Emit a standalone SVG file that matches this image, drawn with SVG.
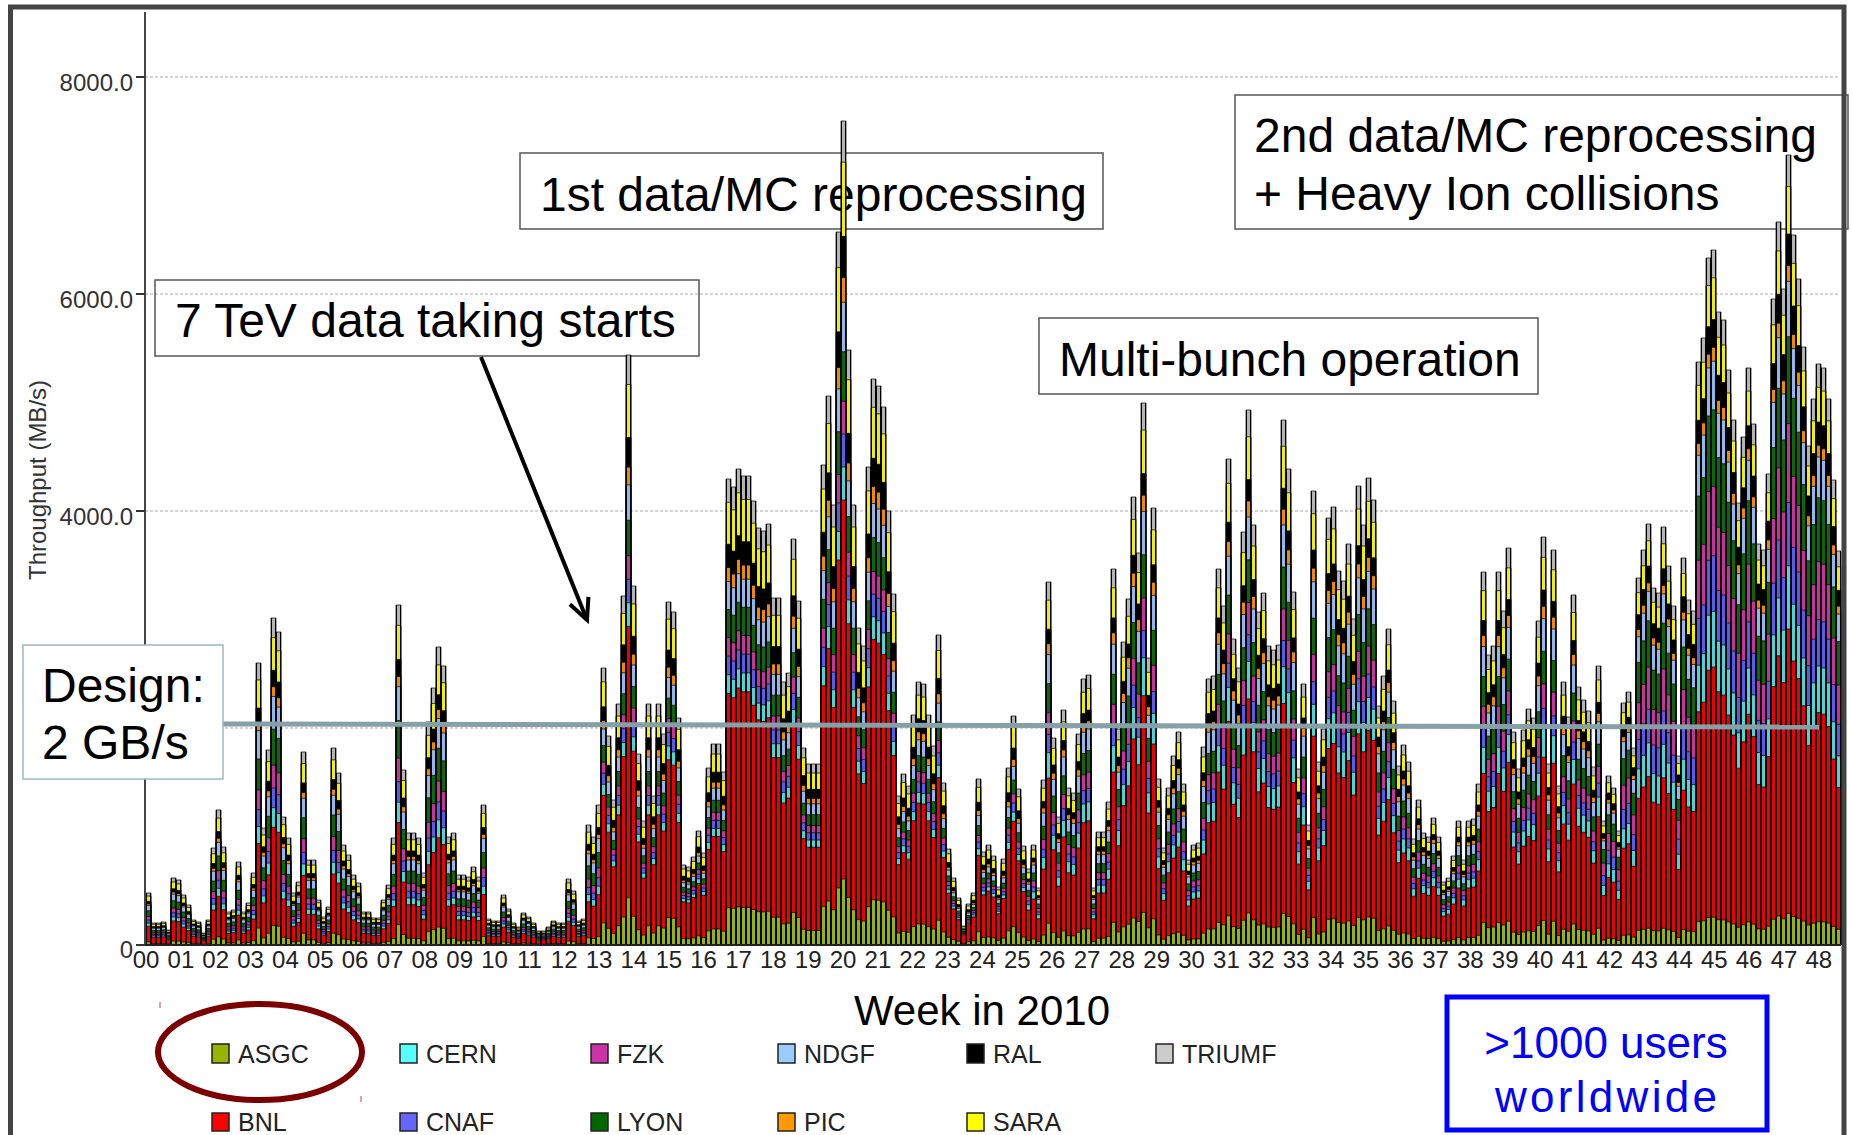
<svg xmlns="http://www.w3.org/2000/svg" xmlns:xlink="http://www.w3.org/1999/xlink" width="1852" height="1135" viewBox="0 0 1852 1135">
<style>
text{font-family:"Liberation Sans",Arial,sans-serif}
.tk{font-size:24px;fill:#333}
.wk{font-size:24px;fill:#222;text-anchor:middle}
.ann{font-size:48px;fill:#000}
.box{fill:none;stroke:#555;stroke-width:1.5}
.lg{font-size:25px;fill:#222}
.sw{stroke:#222;stroke-width:1.5}
.grid{stroke:#aaa;stroke-width:1;stroke-dasharray:3 2}
.bars use{stroke:#000;stroke-width:.7}
.tr{fill:url(#pTR)}.sa{fill:url(#pSA)}.ra{fill:#000}.pi{fill:url(#pPI)}.nd{fill:url(#pND)}.ly{fill:url(#pLY)}.fz{fill:url(#pFZ)}.cn{fill:url(#pCN)}.ce{fill:url(#pCE)}.bn{fill:url(#pBN)}.as{fill:url(#pAS)}
.usr{font-size:44px;fill:#0000ff;text-anchor:middle}
</style>
<defs>
<pattern id="pTR" patternUnits="userSpaceOnUse" x="146" width="5" height="8"><rect width="5" height="8"/><rect x="1" width="3" height="8" fill="#b4b4b4"/></pattern>
<pattern id="pSA" patternUnits="userSpaceOnUse" x="146" width="5" height="8"><rect width="5" height="8"/><rect x="1" width="3" height="8" fill="#f0f000"/></pattern>
<pattern id="pPI" patternUnits="userSpaceOnUse" x="146" width="5" height="8"><rect width="5" height="8"/><rect x="1" width="3" height="8" fill="#f08800"/></pattern>
<pattern id="pND" patternUnits="userSpaceOnUse" x="146" width="5" height="8"><rect width="5" height="8"/><rect x="1" width="3" height="8" fill="#8fb8ec"/></pattern>
<pattern id="pLY" patternUnits="userSpaceOnUse" x="146" width="5" height="8"><rect width="5" height="8"/><rect x="1" width="3" height="8" fill="#0a6a0a"/></pattern>
<pattern id="pFZ" patternUnits="userSpaceOnUse" x="146" width="5" height="8"><rect width="5" height="8"/><rect x="1" width="3" height="8" fill="#c8329f"/></pattern>
<pattern id="pCN" patternUnits="userSpaceOnUse" x="146" width="5" height="8"><rect width="5" height="8"/><rect x="1" width="3" height="8" fill="#5a5aec"/></pattern>
<pattern id="pCE" patternUnits="userSpaceOnUse" x="146" width="5" height="8"><rect width="5" height="8"/><rect x="1" width="3" height="8" fill="#4ad6d6"/></pattern>
<pattern id="pBN" patternUnits="userSpaceOnUse" x="146" width="5" height="8"><rect width="5" height="8"/><rect x="1" width="3" height="8" fill="#ee0000"/></pattern>
<pattern id="pAS" patternUnits="userSpaceOnUse" x="146" width="5" height="8"><rect width="5" height="8"/><rect x="1" width="3" height="8" fill="#96b400"/></pattern>
<marker id="openArrow" markerUnits="userSpaceOnUse" orient="auto" overflow="visible" refX="0" refY="0" markerWidth="30" markerHeight="30"><path d="M-21,-10L0,0L-21,10" fill="none" stroke="#000" stroke-width="4"/></marker>
<path id="e1" vector-effect="non-scaling-stroke" d="M146,945V893h5V923h5V923h5V922h5V930h5V878h5V880h5V895h5V905h5V920h5V922h5V933h5V920h5V848h5V810h5V847h5V912h5V910h5V862h5V912h5V903h5V873h5V663h5V828h5V750h5V618h5V632h5V817h5V838h5V893h5V882h5V752h5V860h5V860h5V900h5V917h5V907h5V748h5V773h5V845h5V855h5V875h5V883h5V912h5V912h5V918h5V918h5V900h5V885h5V838h5V605h5V770h5V833h5V833h5V838h5V873h5V722h5V688h5V647h5V666h5V837h5V833h5V875h5V875h5V877h5V867h5V877h5V805h5V919h5V921h5V921h5V895h5V909h5V923h5V927h5V913h5V917h5V923h5V931h5V931h5V927h5V921h5V923h5V923h5V879h5V891h5V921h5V919h5V825h5V837h5V805h5V945Z"/>
<path id="e2" vector-effect="non-scaling-stroke" d="M601,945V668h5V736h5V800h5V704h5V596h5V355h5V586h5V754h5V821h5V704h5V796h5V704h5V734h5V602h5V612h5V718h5V865h5V867h5V857h5V831h5V853h5V768h5V744h5V744h5V772h5V479h5V487h5V469h5V476h5V476h5V501h5V528h5V531h5V524h5V598h5V598h5V682h5V673h5V539h5V601h5V748h5V764h5V764h5V764h5V465h5V396h5V505h5V232h5V121h5V350h5V505h5V628h5V646h5V467h5V379h5V386h5V407h5V511h5V594h5V796h5V774h5V786h5V715h5V682h5V684h5V715h5V746h5V635h5V783h5V849h5V878h5V898h5V926h5V904h5V893h5V779h5V852h5V845h5V856h5V887h5V859h5V768h5V716h5V789h5V846h5V945Z"/>
<path id="e3" vector-effect="non-scaling-stroke" d="M1026,945V869h5V845h5V888h5V780h5V582h5V738h5V817h5V710h5V788h5V793h5V734h5V679h5V675h5V888h5V832h5V832h5V802h5V569h5V729h5V642h5V599h5V497h5V553h5V403h5V658h5V508h5V779h5V848h5V788h5V756h5V732h5V784h5V860h5V845h5V843h5V747h5V679h5V676h5V569h5V606h5V459h5V639h5V668h5V532h5V410h5V525h5V612h5V593h5V646h5V650h5V645h5V420h5V469h5V592h5V769h5V684h5V825h5V491h5V762h5V729h5V518h5V507h5V571h5V581h5V544h5V619h5V486h5V525h5V478h5V500h5V706h5V676h5V629h5V701h5V766h5V745h5V762h5V839h5V800h5V833h5V837h5V818h5V837h5V882h5V878h5V856h5V821h5V860h5V821h5V819h5V784h5V572h5V655h5V646h5V572h5V611h5V548h5V732h5V769h5V730h5V709h5V718h5V621h5V537h5V764h5V550h5V786h5V682h5V717h5V595h5V687h5V700h5V711h5V767h5V666h5V945Z"/>
<path id="e4" vector-effect="non-scaling-stroke" d="M1601,945V821h5V776h5V788h5V831h5V703h5V692h5V748h5V578h5V550h5V524h5V588h5V593h5V527h5V566h5V606h5V756h5V558h5V600h5V611h5V362h5V338h5V258h5V250h5V312h5V320h5V370h5V420h5V503h5V437h5V368h5V424h5V544h5V550h5V474h5V299h5V222h5V289h5V155h5V235h5V279h5V347h5V446h5V399h5V364h5V368h5V399h5V480h5V551h5V945Z"/>
</defs>

<rect x="0" y="0" width="1852" height="1135" fill="#fff"/>

<g id="grid">
<line class="grid" x1="145" y1="77" x2="1840" y2="77"/>
<line class="grid" x1="145" y1="294" x2="1840" y2="294"/>
<line class="grid" x1="145" y1="511" x2="1840" y2="511"/>
<line class="grid" x1="145" y1="728" x2="1840" y2="728"/>
</g>

<g id="node-7tev">
<rect class="box" x="155" y="280" width="544" height="76"/>
<text class="ann" x="175" y="337">7 TeV data taking starts</text>
</g>
<g id="node-1st-reprocessing">
<rect class="box" x="520" y="153" width="583" height="76"/>
<text class="ann" x="540" y="211">1st data/MC reprocessing</text>
</g>
<g id="node-multibunch">
<rect class="box" x="1039" y="318" width="499" height="76"/>
<text class="ann" x="1059" y="376">Multi-bunch operation</text>
</g>
<g id="node-2nd-reprocessing">
<rect class="box" x="1235" y="95" width="613" height="134"/>
<text class="ann" x="1254" y="152">2nd data/MC reprocessing</text>
<text class="ann" x="1254" y="210">+ Heavy Ion collisions</text>
</g>

<g id="bars" class="bars">
<use href="#e1" class="tr"/>
<use href="#e1" class="sa" transform="matrix(1 0 0 .94 0 56.7)"/>
<use href="#e1" class="ra" transform="matrix(1 0 0 .84 0 151.2)"/>
<use href="#e1" class="pi" transform="matrix(1 0 0 .79 0 198.45)"/>
<use href="#e1" class="nd" transform="matrix(1 0 0 .76 0 226.8)"/>
<use href="#e1" class="ly" transform="matrix(1 0 0 .66 0 321.3)"/>
<use href="#e1" class="fz" transform="matrix(1 0 0 .55 0 425.25)"/>
<use href="#e1" class="cn" transform="matrix(1 0 0 .48 0 491.4)"/>
<use href="#e1" class="ce" transform="matrix(1 0 0 .42 0 548.1)"/>
<use href="#e1" class="bn" transform="matrix(1 0 0 .36 0 604.8)"/>
<use href="#e1" class="as" transform="matrix(1 0 0 .06 0 888.3)"/>

<use href="#e2" class="tr"/>
<use href="#e2" class="sa" transform="matrix(1 0 0 .95 0 47.25)"/>
<use href="#e2" class="ra" transform="matrix(1 0 0 .86 0 132.3)"/>
<use href="#e2" class="pi" transform="matrix(1 0 0 .81 0 179.55)"/>
<use href="#e2" class="nd" transform="matrix(1 0 0 .78 0 207.9)"/>
<use href="#e2" class="ly" transform="matrix(1 0 0 .72 0 264.6)"/>
<use href="#e2" class="fz" transform="matrix(1 0 0 .66 0 321.3)"/>
<use href="#e2" class="cn" transform="matrix(1 0 0 .62 0 359.1)"/>
<use href="#e2" class="ce" transform="matrix(1 0 0 .58 0 396.9)"/>
<use href="#e2" class="bn" transform="matrix(1 0 0 .54 0 434.7)"/>
<use href="#e2" class="as" transform="matrix(1 0 0 .08 0 869.4)"/>

<use href="#e3" class="tr"/>
<use href="#e3" class="sa" transform="matrix(1 0 0 .95 0 47.25)"/>
<use href="#e3" class="ra" transform="matrix(1 0 0 .87 0 122.85)"/>
<use href="#e3" class="pi" transform="matrix(1 0 0 .83 0 160.65)"/>
<use href="#e3" class="nd" transform="matrix(1 0 0 .80 0 189)"/>
<use href="#e3" class="ly" transform="matrix(1 0 0 .72 0 264.6)"/>
<use href="#e3" class="fz" transform="matrix(1 0 0 .64 0 340.2)"/>
<use href="#e3" class="cn" transform="matrix(1 0 0 .58 0 396.9)"/>
<use href="#e3" class="ce" transform="matrix(1 0 0 .53 0 444.15)"/>
<use href="#e3" class="bn" transform="matrix(1 0 0 .46 0 510.3)"/>
<use href="#e3" class="as" transform="matrix(1 0 0 .06 0 888.3)"/>

<use href="#e4" class="tr"/>
<use href="#e4" class="sa" transform="matrix(1 0 0 .96 0 37.8)"/>
<use href="#e4" class="ra" transform="matrix(1 0 0 .90 0 94.5)"/>
<use href="#e4" class="pi" transform="matrix(1 0 0 .86 0 132.3)"/>
<use href="#e4" class="nd" transform="matrix(1 0 0 .84 0 151.2)"/>
<use href="#e4" class="ly" transform="matrix(1 0 0 .77 0 217.35)"/>
<use href="#e4" class="fz" transform="matrix(1 0 0 .66 0 321.3)"/>
<use href="#e4" class="cn" transform="matrix(1 0 0 .56 0 415.8)"/>
<use href="#e4" class="ce" transform="matrix(1 0 0 .48 0 491.4)"/>
<use href="#e4" class="bn" transform="matrix(1 0 0 .40 0 567)"/>
<use href="#e4" class="as" transform="matrix(1 0 0 .04 0 907.2)"/>
</g>

<g id="axes">
<line x1="145" y1="12" x2="145" y2="946" stroke="#444" stroke-width="2"/>
<line x1="144" y1="945" x2="1841" y2="945" stroke="#222" stroke-width="2"/>
<g stroke="#333" stroke-width="2">
<line x1="136" y1="77" x2="145" y2="77"/>
<line x1="136" y1="294" x2="145" y2="294"/>
<line x1="136" y1="511" x2="145" y2="511"/>
<line x1="136" y1="945" x2="145" y2="945"/>
</g>
<text class="tk" x="133" y="91" text-anchor="end">8000.0</text>
<text class="tk" x="133" y="308" text-anchor="end">6000.0</text>
<text class="tk" x="133" y="525" text-anchor="end">4000.0</text>
<text class="tk" x="133" y="958" text-anchor="end">0</text>
<text class="tk" transform="translate(46,480) rotate(-90)" text-anchor="middle">Throughput (MB/s)</text>
<g class="weeks">
<text class="wk" x="146" y="968">00</text>
<text class="wk" x="180.9" y="968">01</text>
<text class="wk" x="215.7" y="968">02</text>
<text class="wk" x="250.6" y="968">03</text>
<text class="wk" x="285.4" y="968">04</text>
<text class="wk" x="320.3" y="968">05</text>
<text class="wk" x="355.1" y="968">06</text>
<text class="wk" x="390" y="968">07</text>
<text class="wk" x="424.8" y="968">08</text>
<text class="wk" x="459.7" y="968">09</text>
<text class="wk" x="494.5" y="968">10</text>
<text class="wk" x="529.4" y="968">11</text>
<text class="wk" x="564.2" y="968">12</text>
<text class="wk" x="599.1" y="968">13</text>
<text class="wk" x="633.9" y="968">14</text>
<text class="wk" x="668.8" y="968">15</text>
<text class="wk" x="703.6" y="968">16</text>
<text class="wk" x="738.5" y="968">17</text>
<text class="wk" x="773.3" y="968">18</text>
<text class="wk" x="808.2" y="968">19</text>
<text class="wk" x="843" y="968">20</text>
<text class="wk" x="877.9" y="968">21</text>
<text class="wk" x="912.7" y="968">22</text>
<text class="wk" x="947.6" y="968">23</text>
<text class="wk" x="982.4" y="968">24</text>
<text class="wk" x="1017.3" y="968">25</text>
<text class="wk" x="1052.1" y="968">26</text>
<text class="wk" x="1087" y="968">27</text>
<text class="wk" x="1121.8" y="968">28</text>
<text class="wk" x="1156.7" y="968">29</text>
<text class="wk" x="1191.5" y="968">30</text>
<text class="wk" x="1226.4" y="968">31</text>
<text class="wk" x="1261.2" y="968">32</text>
<text class="wk" x="1296.1" y="968">33</text>
<text class="wk" x="1330.9" y="968">34</text>
<text class="wk" x="1365.8" y="968">35</text>
<text class="wk" x="1400.6" y="968">36</text>
<text class="wk" x="1435.5" y="968">37</text>
<text class="wk" x="1470.3" y="968">38</text>
<text class="wk" x="1505.2" y="968">39</text>
<text class="wk" x="1540" y="968">40</text>
<text class="wk" x="1574.9" y="968">41</text>
<text class="wk" x="1609.7" y="968">42</text>
<text class="wk" x="1644.6" y="968">43</text>
<text class="wk" x="1679.4" y="968">44</text>
<text class="wk" x="1714.3" y="968">45</text>
<text class="wk" x="1749.1" y="968">46</text>
<text class="wk" x="1784" y="968">47</text>
<text class="wk" x="1818.8" y="968">48</text>
</g>
<text x="982" y="1025" font-size="42" text-anchor="middle" fill="#000">Week in 2010</text>
</g>

<g id="node-design">
<line x1="223" y1="724" x2="1819" y2="727" stroke="#86a0a8" stroke-width="5"/>
<rect x="23" y="645" width="200" height="134" fill="#fff" stroke="#9fb8c0" stroke-width="1.5"/>
<text class="ann" x="42" y="702">Design:</text>
<text class="ann" x="42" y="759">2 GB/s</text>
</g>

<g id="connectors">
<line x1="481" y1="357" x2="587" y2="620" stroke="#000" stroke-width="4" marker-end="url(#openArrow)"/>
</g>

<g id="legend">
<g id="lg-asgc"><rect class="sw" x="212" y="1044" width="17" height="19" fill="#96b400"/><text class="lg" x="238" y="1063">ASGC</text></g>
<g id="lg-cern"><rect class="sw" x="400" y="1044" width="17" height="19" fill="#55ffff"/><text class="lg" x="426" y="1063">CERN</text></g>
<g id="lg-fzk"><rect class="sw" x="591" y="1044" width="17" height="19" fill="#cc33aa"/><text class="lg" x="617" y="1063">FZK</text></g>
<g id="lg-ndgf"><rect class="sw" x="778" y="1044" width="17" height="19" fill="#99ccff"/><text class="lg" x="804" y="1063">NDGF</text></g>
<g id="lg-ral"><rect class="sw" x="967" y="1044" width="17" height="19" fill="#000"/><text class="lg" x="993" y="1063">RAL</text></g>
<g id="lg-triumf"><rect class="sw" x="1156" y="1044" width="17" height="19" fill="#cccccc"/><text class="lg" x="1182" y="1063">TRIUMF</text></g>
<g id="lg-bnl"><rect class="sw" x="212" y="1113" width="17" height="18" fill="#ff0000"/><text class="lg" x="238" y="1131">BNL</text></g>
<g id="lg-cnaf"><rect class="sw" x="400" y="1113" width="17" height="18" fill="#6666ff"/><text class="lg" x="426" y="1131">CNAF</text></g>
<g id="lg-lyon"><rect class="sw" x="591" y="1113" width="17" height="18" fill="#006600"/><text class="lg" x="617" y="1131">LYON</text></g>
<g id="lg-pic"><rect class="sw" x="778" y="1113" width="17" height="18" fill="#ff9900"/><text class="lg" x="804" y="1131">PIC</text></g>
<g id="lg-sara"><rect class="sw" x="967" y="1113" width="17" height="18" fill="#ffff00"/><text class="lg" x="993" y="1131">SARA</text></g>
</g>

<g id="node-asgc-highlight">
<ellipse cx="260" cy="1052" rx="102" ry="48" fill="none" stroke="#7b0000" stroke-width="6"/>
<line x1="160" y1="1002" x2="160" y2="1008" stroke="#c07070" stroke-width="1.2"/>
<line x1="361" y1="1096" x2="361" y2="1102" stroke="#c07070" stroke-width="1.2"/>
</g>

<g id="node-users">
<rect x="1447" y="997" width="320" height="133" fill="none" stroke="#0000ff" stroke-width="5"/>
<text class="usr" x="1606" y="1058">&gt;1000 users</text>
<text class="usr" x="1606" y="1112" textLength="222" lengthAdjust="spacing">worldwide</text>
</g>

<g id="frame">
<path d="M10.5,1140V7H1844V1140" fill="none" stroke="#444" stroke-width="5"/>
</g>
</svg>
